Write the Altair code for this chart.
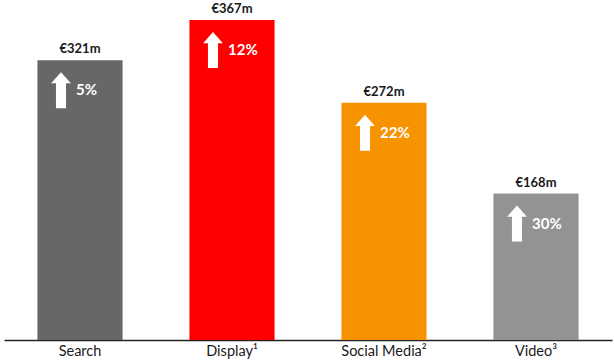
import altair as alt
import pandas as pd

categories = ["Search", "Display¹", "Social Media²", "Video³"]
spend_m = [321, 367, 272, 168]
growth_pct = [5, 12, 22, 30]

df = pd.DataFrame({
    "cat": categories,
    "value": spend_m,
    "growth": growth_pct,
})
df["value_label"] = ["€" + str(v) + "m" for v in df["value"]]
df["growth_label"] = [str(g) + "%" for g in df["growth"]]

bar_colors = ["#676767", "#FF0000", "#F79200", "#939393"]
FONT = "Lato"

x = alt.X("cat:N", sort=categories, title=None,
          scale=alt.Scale(paddingInner=0.44, paddingOuter=0.22),
          axis=alt.Axis(labelAngle=0, ticks=False, labelFontSize=14.5, labelFont=FONT,
                        labelColor="#1a1a1a", labelPadding=4, domainColor="#222222",
                        domainWidth=1.5, grid=False))
y = alt.Y("value:Q", title=None, scale=alt.Scale(domain=[0, 390], nice=False),
          axis=None)

base = alt.Chart(df).encode(x=x, y=y)

bars = base.mark_bar().encode(
    color=alt.Color("cat:N", sort=categories, scale=alt.Scale(domain=categories, range=bar_colors),
                    legend=None)
)

value_text = base.mark_text(baseline="bottom", dy=-4, fontSize=13, fontWeight="bold",
                            font=FONT, color="#1a1a1a").encode(text="value_label:N")

arrow_path = "M0,-1 L0.55,-0.38 L0.28,-0.38 L0.28,1 L-0.28,1 L-0.28,-0.38 L-0.55,-0.38 Z"
arrows = base.mark_point(shape=arrow_path, filled=True, fill="white", stroke="white",
                         strokeWidth=0, opacity=1, size=1296, xOffset=-19, yOffset=30)

growth_text = base.mark_text(align="left", baseline="middle", dx=-4, dy=30, fontSize=15,
                             fontWeight="bold", font=FONT, color="white").encode(text="growth_label:N")

chart = alt.layer(bars, value_text, arrows, growth_text).properties(
    width=608, height=340,
    autosize=alt.AutoSizeParams(type="none"),
    padding={"left": 4, "top": 0, "right": 2, "bottom": 21},
    background="white",
).configure_view(strokeWidth=0)

chart.save("out.html", embed_options={"renderer": "svg", "actions": False})
